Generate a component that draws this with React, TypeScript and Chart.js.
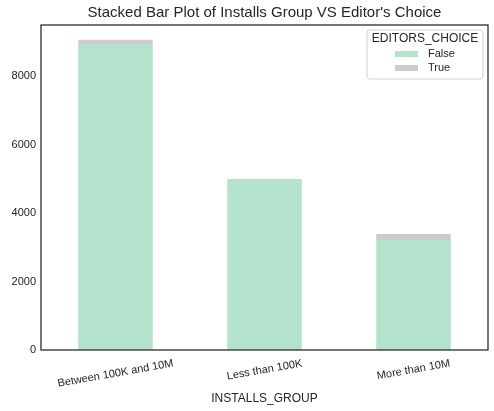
import React, { useEffect, useRef } from "react";
import { Chart, registerables } from "chart.js";

Chart.register(...registerables);

const categories = ["Between 100K and 10M", "Less than 100K", "More than 10M"];
const falseValues = [8934, 4993, 3212];
const trueValues = [125, 2, 172];
const seriesLabels = ["False", "True"];
const yTickValues = [0, 2000, 4000, 6000, 8000];
const titleText = "Stacked Bar Plot of Installs Group VS Editor's Choice";
const legendTitle = "EDITORS_CHOICE";

const TEXT = "#262626";
const FONT = "'Liberation Sans', Arial, sans-serif";

const customPlugin = {
  id: "customDraw",
  afterDraw(chart: any) {
    const { ctx, chartArea } = chart;
    const xScale = chart.scales.x;
    ctx.save();
    // title
    ctx.fillStyle = TEXT;
    ctx.font = `15px ${FONT}`;
    ctx.textAlign = "center";
    ctx.textBaseline = "middle";
    ctx.fillText(titleText, (chartArea.left + chartArea.right) / 2, chartArea.top - 12);

    // frame
    ctx.strokeStyle = TEXT;
    ctx.lineWidth = 1.25;
    ctx.strokeRect(chartArea.left, chartArea.top, chartArea.right - chartArea.left, chartArea.bottom - chartArea.top);

    // rotated x tick labels
    const angle = (10 * Math.PI) / 180;
    ctx.font = `11px ${FONT}`;
    ctx.fillStyle = TEXT;
    ctx.textAlign = "center";
    ctx.textBaseline = "middle";
    categories.forEach((lab, i) => {
      const x = xScale.getPixelForValue(i);
      const w = ctx.measureText(lab).width;
      const boxH = w * Math.sin(angle) + 11 * Math.cos(angle);
      const cy = chartArea.bottom + 8 + boxH / 2;
      ctx.save();
      ctx.translate(x, cy);
      ctx.rotate(-angle);
      ctx.fillText(lab, 0, 0);
      ctx.restore();
    });

    // legend
    const bx = chartArea.right - 121;
    const by = chartArea.top + 5;
    const bw = 116;
    const bh = 49;
    const r = 3;
    ctx.beginPath();
    ctx.moveTo(bx + r, by);
    ctx.lineTo(bx + bw - r, by);
    ctx.arcTo(bx + bw, by, bx + bw, by + r, r);
    ctx.lineTo(bx + bw, by + bh - r);
    ctx.arcTo(bx + bw, by + bh, bx + bw - r, by + bh, r);
    ctx.lineTo(bx + r, by + bh);
    ctx.arcTo(bx, by + bh, bx, by + bh - r, r);
    ctx.lineTo(bx, by + r);
    ctx.arcTo(bx, by, bx + r, by, r);
    ctx.closePath();
    ctx.fillStyle = "rgba(255,255,255,0.8)";
    ctx.fill();
    ctx.strokeStyle = "#d0d0d0";
    ctx.lineWidth = 1;
    ctx.stroke();

    ctx.fillStyle = TEXT;
    ctx.font = `12px ${FONT}`;
    ctx.textAlign = "center";
    ctx.textBaseline = "middle";
    ctx.fillText(legendTitle, bx + bw / 2, by + 9);

    chart.data.datasets.forEach((ds: any, i: number) => {
      const yy = by + 24 + i * 14;
      ctx.fillStyle = ds.backgroundColor;
      ctx.fillRect(bx + 28, yy - 3, 23, 6);
      ctx.fillStyle = TEXT;
      ctx.font = `11px ${FONT}`;
      ctx.textAlign = "left";
      ctx.fillText(ds.label, bx + 61, yy);
    });
    ctx.restore();
  },
};

export default function App() {
  const ref = useRef<HTMLCanvasElement | null>(null);
  useEffect(() => {
    if (!ref.current) return;
    const chart = new Chart(ref.current, {
      type: "bar",
      data: {
        labels: categories,
        datasets: [
          { label: seriesLabels[0], data: falseValues, backgroundColor: "#b3e2cd", borderWidth: 0, barPercentage: 0.5, categoryPercentage: 1 },
          { label: seriesLabels[1], data: trueValues, backgroundColor: "#cccccc", borderWidth: 0, barPercentage: 0.5, categoryPercentage: 1 },
        ],
      },
      options: {
        animation: false,
        responsive: false,
        devicePixelRatio: 1,
        layout: { padding: { left: 0, right: 6, top: 25, bottom: 0 } },
        plugins: {
          legend: { display: false },
          tooltip: { enabled: false },
          title: { display: false },
        },
        scales: {
          x: {
            stacked: true,
            grid: { display: false, drawTicks: false },
            border: { display: false },
            ticks: { display: false },
            title: {
              display: true,
              text: "INSTALLS_GROUP",
              color: TEXT,
              font: { family: FONT, size: 12 },
              padding: { top: 0, bottom: 5 },
            },
            afterFit: (s: any) => {
              s.height = 61;
            },
          },
          y: {
            stacked: true,
            min: 0,
            max: 9490,
            grid: { display: false, drawTicks: false },
            border: { display: false },
            ticks: {
              color: TEXT,
              font: { family: FONT, size: 11 },
              padding: 5,
              callback: (v: any) => String(v),
            },
            afterBuildTicks: (s: any) => {
              s.ticks = yTickValues.map((v) => ({ value: v }));
            },
            afterFit: (s: any) => {
              s.width = 41;
            },
          },
        },
      },
      plugins: [customPlugin],
    } as any);
    return () => chart.destroy();
  }, []);
  return (
    <div style={{ position: "fixed", left: 0, top: 0, width: 494, height: 411, background: "#fff" }}>
      <canvas ref={ref} width={494} height={411} style={{ display: "block" }} />
    </div>
  );
}
